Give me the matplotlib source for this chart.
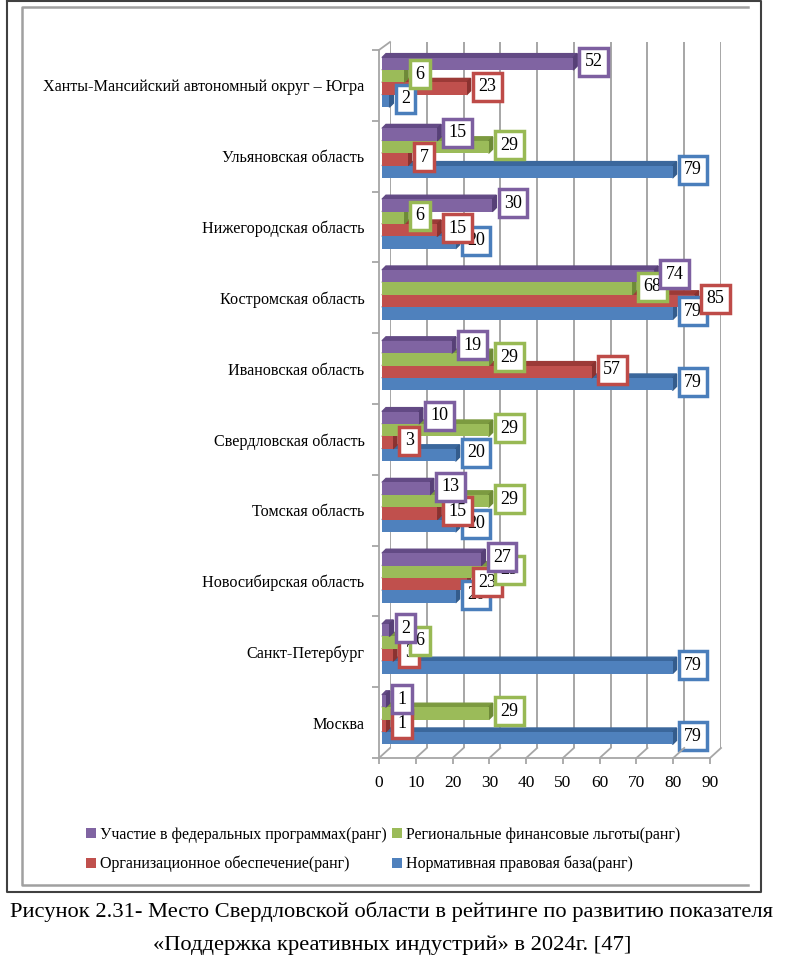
import matplotlib
matplotlib.use("Agg")
import matplotlib.pyplot as plt
import matplotlib.transforms as mtransforms
from matplotlib.patches import Polygon, Patch
from matplotlib.lines import Line2D
import numpy as np

plt.rcParams['font.family'] = ['Liberation Serif', 'DejaVu Serif']

#-------------Data (bottom to top, as drawn):

regions = ['Москва', 'Санкт-Петербург', 'Новосибирская область', 'Томская область',
           'Свердловская область', 'Ивановская область', 'Костромская область',
           'Нижегородская область', 'Ульяновская область',
           'Ханты-Мансийский автономный округ – Югра']

normativ = [79, 79, 20, 20, 20, 79, 79, 20, 79, 2]
organiz = [1, 3, 23, 15, 3, 57, 85, 15, 7, 23]
finance = [29, 6, 29, 29, 29, 29, 68, 6, 29, 6]
federal = [1, 2, 27, 13, 10, 19, 74, 30, 15, 52]

series_names = ['Нормативная правовая база(ранг)',
                'Организационное обеспечение(ранг)',
                'Региональные финансовые льготы(ранг)',
                'Участие в федеральных программах(ранг)']
x_ticks = [0, 10, 20, 30, 40, 50, 60, 70, 80, 90]

caption1 = 'Рисунок 2.31- Место Свердловской области в рейтинге по развитию показателя'
caption2 = '«Поддержка креативных индустрий» в 2024г. [47]'

#-------------Styles:

front_col = ['#4F81BD', '#C0504D', '#9BBB59', '#8064A2']
top_col = ['#3B679C', '#9C3A37', '#7C9A40', '#634A85']
side_col = ['#345C8C', '#8A3230', '#6E8A38', '#574077']
edge_col = ['#4A7EBB', '#BE4B48', '#98B954', '#7D5FA0']
grid_col = '#A6A6A6'

W, H = 800, 966


def fx(px):
    return px / W


def fy(py):
    return 1 - py / H


fig = plt.figure(figsize=(W / 100, H / 100), dpi=100, facecolor='white')

# back wall and front plane
ax_back = fig.add_axes([fx(390), fy(748), 331 / W, 706 / H])
ax_back.set_xlim(0, 90)
ax_back.set_ylim(0, 1)
ax_back.axis('off')
for v in x_ticks:
    ax_back.axvline(v, color=grid_col, lw=1.4, zorder=0)

ax = fig.add_axes([fx(379), fy(758), 331 / W, 708 / H])
ax.set_xlim(0, 90)
ax.set_ylim(0, 10)
ax.patch.set_visible(False)
for s in ['top', 'right']:
    ax.spines[s].set_visible(False)
for s in ['left', 'bottom']:
    ax.spines[s].set_color(grid_col)
    ax.spines[s].set_linewidth(1.3)

ax.set_xticks(x_ticks)
ax.set_xticklabels([str(v) for v in x_ticks], fontsize=12.5)
ax.tick_params(axis='x', direction='out', length=4, width=1.3, color=grid_col, pad=8)
ax.set_yticks(np.arange(0, 11))
ax.set_yticklabels([])
ax.set_yticks(np.arange(10) + 0.5, minor=True)
ax.set_yticklabels(regions, minor=True, fontsize=11.6)
ax.tick_params(axis='y', which='major', direction='out', length=5, width=1.3, color=grid_col)
ax.tick_params(axis='y', which='minor', length=0, pad=10.5)

# floor depth lines and top-left edge
to_fig = fig.transFigure.inverted()
for v in x_ticks:
    p0 = to_fig.transform(ax.transData.transform((v, 0)))
    p1 = to_fig.transform(ax_back.transData.transform((v, 0)))
    fig.add_artist(Line2D([p0[0], p1[0]], [p0[1], p1[1]], color=grid_col, lw=1.3))
p0 = to_fig.transform(ax.transData.transform((0, 10)))
p1 = to_fig.transform(ax_back.transData.transform((0, 1)))
fig.add_artist(Line2D([p0[0], p1[0]], [p0[1], p1[1]], color=grid_col, lw=1.3))

#-------------Bars with a little 3D look:

series = [normativ, organiz, finance, federal]
bar_h = 0.175
shift = mtransforms.ScaledTranslation(0.03, 0.03, fig.dpi_scale_trans)
bar_tr = ax.transData + shift
ddx = 4 * 90 / 331
ddy = 4 * 10 / 708

for i in range(len(regions)):
    for k, vals in enumerate(series):
        v = vals[i]
        y0 = i + 0.5 - 2 * bar_h + k * bar_h
        ax.barh(y0, v, height=bar_h, align='edge', color=front_col[k],
                transform=bar_tr, zorder=3 + 2 * k, clip_on=False)
        ax.add_patch(Polygon([(0, y0 + bar_h), (v, y0 + bar_h),
                              (v + ddx, y0 + bar_h + ddy), (ddx, y0 + bar_h + ddy)],
                             closed=True, color=top_col[k], transform=bar_tr,
                             zorder=2 + 2 * k, clip_on=False))
        ax.add_patch(Polygon([(v, y0), (v + ddx, y0 + ddy),
                              (v + ddx, y0 + bar_h + ddy), (v, y0 + bar_h)],
                             closed=True, color=side_col[k], transform=bar_tr,
                             zorder=2 + 2 * k, clip_on=False))
        ax.annotate(str(v), xy=(v + ddx, y0 + bar_h / 2 + ddy / 2), xycoords=bar_tr,
                    xytext=(5.5, 0), textcoords='offset points', ha='left', va='center',
                    fontsize=13, color='black', zorder=20 + k, annotation_clip=False,
                    bbox=dict(boxstyle='square,pad=0.3', fc='white', ec=edge_col[k], lw=2.5))

#-------------Legend:

handles = [Patch(facecolor=front_col[3]), Patch(facecolor=front_col[1]),
           Patch(facecolor=front_col[2]), Patch(facecolor=front_col[0])]
labels = [series_names[3], series_names[1], series_names[2], series_names[0]]
fig.legend(handles, labels, ncol=2, loc='upper left', bbox_to_anchor=(fx(86), fy(827)),
           frameon=False, fontsize=11.5, handlelength=0.6, handleheight=0.6,
           handletextpad=0.3, columnspacing=0.3, labelspacing=0.8, borderpad=0,
           borderaxespad=0)

#-------------Frames and caption:

fig.add_artist(Line2D([fx(7), fx(761), fx(761), fx(7), fx(7)],
                      [fy(1), fy(1), fy(892), fy(892), fy(1)], color='#404040', lw=1.5))
fig.add_artist(Line2D([fx(748), fx(22), fx(22), fx(748)],
                      [fy(7), fy(7), fy(885), fy(885)], color='#A0A0A0', lw=1.8))

fig.text(fx(391), fy(912), caption1, ha='center', va='center', fontsize=16.2)
fig.text(fx(392), fy(945), caption2, ha='center', va='center', fontsize=16.2)

fig.savefig('out.png', dpi=100, facecolor='white')
